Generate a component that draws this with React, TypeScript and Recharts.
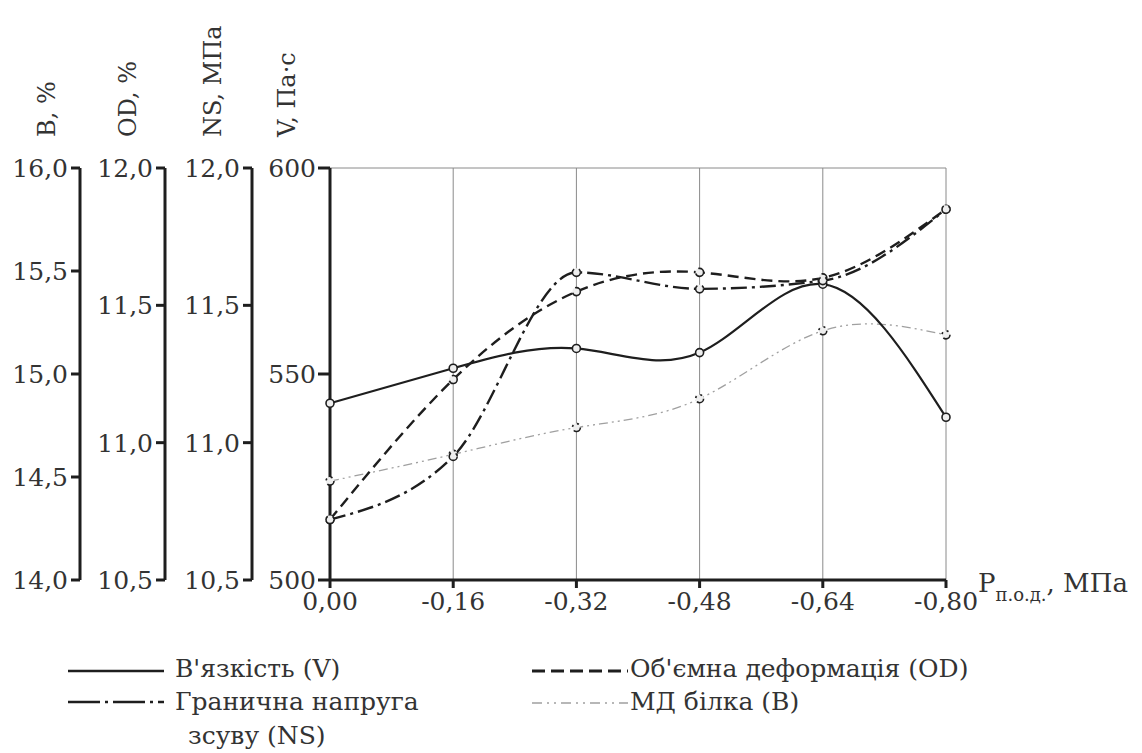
import React from "react";
import {
  LineChart,
  Line,
  XAxis,
  YAxis,
  CartesianGrid,
  ReferenceLine,
} from "recharts";

// тиск попередньої обробки, МПа
const pressures = ["0,00", "-0,16", "-0,32", "-0,48", "-0,64", "-0,80"];

const viscosity = [542.9, 551.4, 556.2, 555.2, 571.8, 539.5]; // V, Па·с
const volumeDeformation = [10.72, 11.23, 11.55, 11.62, 11.6, 11.85]; // OD, %
const shearStress = [10.72, 10.95, 11.62, 11.56, 11.59, 11.85]; // NS, МПа
const proteinMd = [14.48, 14.61, 14.74, 14.88, 15.21, 15.19]; // B, %

const vTicks = [500, 550, 600];
const odTicks = [10.5, 11.0, 11.5, 12.0];
const nsTicks = [10.5, 11.0, 11.5, 12.0];
const bTicks = [14.0, 14.5, 15.0, 15.5, 16.0];

const data = pressures.map((p, i) => ({
  p,
  v: viscosity[i],
  od: volumeDeformation[i],
  ns: shearStress[i],
  b: proteinMd[i],
}));

const FONT = '"DejaVu Serif", "Liberation Serif", serif';
const INK = "#1e1e1e";
const TEXT = "#333";

const comma = (d: number) => (v: number) => v.toFixed(d).replace(".", ",");

function AxisTitle({ viewBox, text, inset }: any) {
  if (!viewBox) return null;
  const cx = viewBox.x + viewBox.width - inset;
  const by = 137;
  return (
    <text
      x={cx}
      y={by}
      dy="0.35em"
      transform={`rotate(-90, ${cx}, ${by})`}
      textAnchor="start"
      fontSize={24}
      fill={TEXT}
      style={{ fontFamily: FONT }}
    >
      {text}
    </text>
  );
}

function PressureTitle({ viewBox }: any) {
  if (!viewBox) return null;
  const x = viewBox.x + viewBox.width + 32;
  const y = viewBox.y + 12;
  return (
    <text x={x} y={y} fontSize={26} fill={TEXT} style={{ fontFamily: FONT }}>
      P
      <tspan fontSize={18} dy={9}>
        п.о.д.
      </tspan>
      <tspan dy={-9}>, МПа</tspan>
    </text>
  );
}

const dot = { r: 4, stroke: INK, strokeWidth: 1.6, fill: "#eeeeee" };

const tick = { fontSize: 25, fill: TEXT, style: { fontFamily: FONT } };
const axisLine = { stroke: INK, strokeWidth: 3 };
const tickLine = { stroke: INK, strokeWidth: 3 };

function LegendSample({ dash, color, width }: { dash?: string; color: string; width: number }) {
  return (
    <svg width={96} height={8} style={{ display: "block" }}>
      <line x1={0} y1={4} x2={96} y2={4} stroke={color} strokeWidth={width} strokeDasharray={dash} />
    </svg>
  );
}

const legendText: React.CSSProperties = {
  position: "absolute",
  fontFamily: FONT,
  fontSize: 25,
  color: TEXT,
  lineHeight: "30px",
  whiteSpace: "nowrap",
};

export default function App() {
  return (
    <div style={{ position: "absolute", left: 0, top: 0, width: 1142, height: 753, background: "#fff" }}>
      <LineChart
        width={1142}
        height={640}
        data={data}
        margin={{ top: 168, right: 196, bottom: 10, left: 0 }}
      >
        <CartesianGrid vertical horizontal={false} stroke="#8a8a8a" strokeWidth={1} yAxisId="a-v" />
        <XAxis
          dataKey="p"
          height={50}
          tick={tick}
          tickSize={8}
          tickMargin={4}
          axisLine={axisLine}
          tickLine={tickLine}
          interval={0}
          label={<PressureTitle />}
        />
        {/* осі від графіка ліворуч: V, NS, OD, B (порядок задає id) */}
        <YAxis
          yAxisId="a-v"
          width={78}
          domain={[500, 600]}
          ticks={vTicks}
          tick={tick}
          tickFormatter={comma(0)}
          tickSize={12}
          tickMargin={2}
          axisLine={axisLine}
          tickLine={tickLine}
          label={<AxisTitle text="V, Па·с" inset={43} />}
        />
        <YAxis
          yAxisId="b-ns"
          width={87}
          domain={[10.5, 12]}
          ticks={nsTicks}
          tick={tick}
          tickFormatter={comma(1)}
          tickSize={9}
          tickMargin={3}
          axisLine={axisLine}
          tickLine={tickLine}
          label={<AxisTitle text="NS, МПа" inset={39} />}
        />
        <YAxis
          yAxisId="c-od"
          width={85}
          domain={[10.5, 12]}
          ticks={odTicks}
          tick={tick}
          tickFormatter={comma(1)}
          tickSize={9}
          tickMargin={3}
          axisLine={axisLine}
          tickLine={tickLine}
          label={<AxisTitle text="OD, %" inset={37} />}
        />
        <YAxis
          yAxisId="d-b"
          width={80}
          domain={[14, 16]}
          ticks={bTicks}
          tick={tick}
          tickFormatter={comma(1)}
          tickSize={9}
          tickMargin={3}
          axisLine={axisLine}
          tickLine={tickLine}
          label={<AxisTitle text="B, %" inset={33} />}
        />
        <ReferenceLine yAxisId="a-v" y={600} stroke="#8a8a8a" strokeWidth={1} />

        <Line
          yAxisId="d-b"
          type="natural"
          dataKey="b"
          stroke="#a0a0a0"
          strokeWidth={1.3}
          strokeDasharray="9 4 2 4 2 4"
          dot={dot}
          isAnimationActive={false}
        />
        <Line
          yAxisId="a-v"
          type="natural"
          dataKey="v"
          stroke={INK}
          strokeWidth={2.2}
          dot={dot}
          isAnimationActive={false}
        />
        <Line
          yAxisId="c-od"
          type="natural"
          dataKey="od"
          stroke={INK}
          strokeWidth={2.4}
          strokeDasharray="11 6"
          dot={dot}
          isAnimationActive={false}
        />
        <Line
          yAxisId="b-ns"
          type="monotone"
          dataKey="ns"
          stroke={INK}
          strokeWidth={2.4}
          strokeDasharray="16 5 3 5"
          dot={dot}
          isAnimationActive={false}
        />
      </LineChart>

      {/* легенда */}
      <div style={{ position: "absolute", left: 68, top: 667 }}>
        <LegendSample color={INK} width={2.5} />
      </div>
      <div style={{ ...legendText, left: 175, top: 654 }}>В'язкість (V)</div>

      <div style={{ position: "absolute", left: 68, top: 698 }}>
        <LegendSample color={INK} width={2.5} dash="32 5 3 5" />
      </div>
      <div style={{ ...legendText, left: 175, top: 687 }}>Гранична напруга</div>
      <div style={{ ...legendText, left: 188, top: 721 }}>зсуву (NS)</div>

      <div style={{ position: "absolute", left: 532, top: 667 }}>
        <LegendSample color={INK} width={3} dash="13 6" />
      </div>
      <div style={{ ...legendText, left: 630, top: 654 }}>Об'ємна деформація (OD)</div>

      <div style={{ position: "absolute", left: 532, top: 699 }}>
        <LegendSample color="#a0a0a0" width={1.5} dash="10 5 2 5 2 5" />
      </div>
      <div style={{ ...legendText, left: 630, top: 687 }}>МД білка (B)</div>
    </div>
  );
}
